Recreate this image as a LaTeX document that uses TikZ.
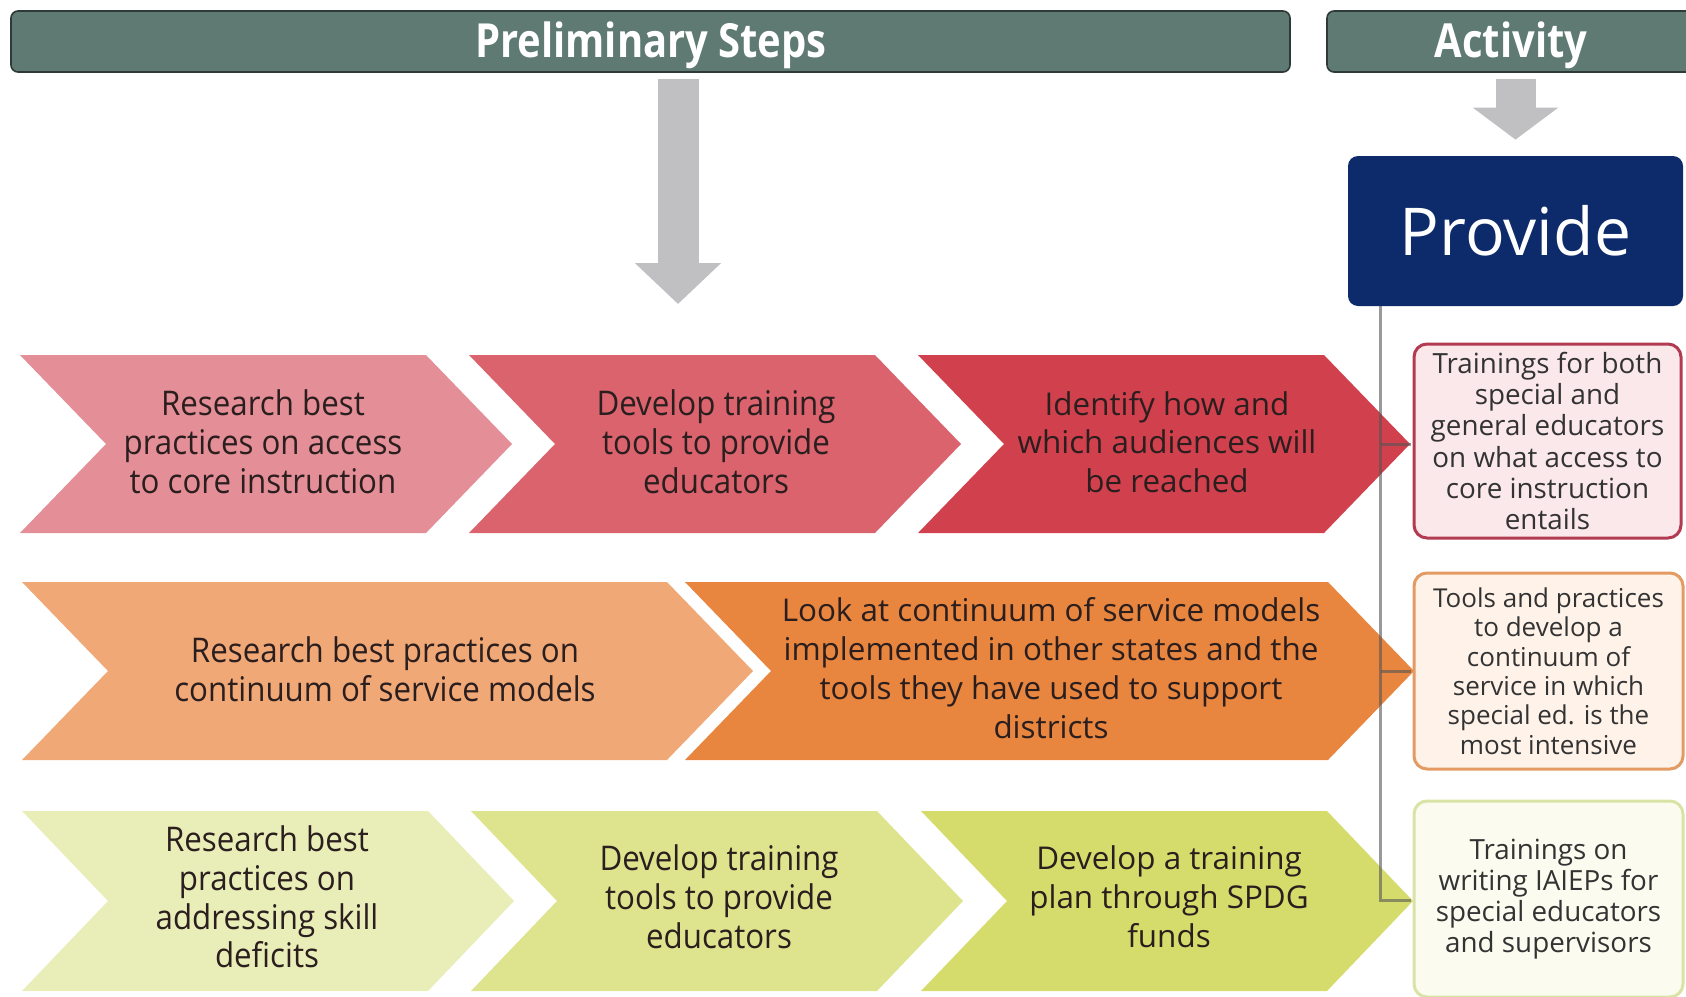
\documentclass[tikz,border=0pt]{standalone}
\usepackage{fontspec}
\setmainfont{Open Sans}
\newfontfamily\condf{Open Sans}[FakeStretch=0.85]
\newfontfamily\semicondf{Open Sans}[FakeStretch=0.92]
\usetikzlibrary{arrows.meta}
\definecolor{hdrfill}{HTML}{5F7A73}
\definecolor{hdrline}{HTML}{2E3A37}
\definecolor{arrowgray}{HTML}{C0C0C2}
\definecolor{navy}{HTML}{0D2B6B}
\definecolor{ra}{HTML}{E48E97}
\definecolor{rb}{HTML}{DA636E}
\definecolor{rc}{HTML}{D1404D}
\definecolor{oa}{HTML}{F0A877}
\definecolor{ob}{HTML}{E8853F}
\definecolor{ga}{HTML}{E9EDB8}
\definecolor{gb}{HTML}{DEE48E}
\definecolor{gc}{HTML}{D5DC6C}
\definecolor{bxonel}{HTML}{B23B52}
\definecolor{bxonef}{HTML}{FBE8EB}
\definecolor{bxtwol}{HTML}{E39B63}
\definecolor{bxtwof}{HTML}{FEF2E9}
\definecolor{bxthrl}{HTML}{D9E3A6}
\definecolor{bxthrf}{HTML}{FBFCEF}
\definecolor{chtext}{HTML}{2A1E1E}
\definecolor{bxtext}{HTML}{333333}
\definecolor{linegray}{HTML}{555555}
\newcommand\mychev[6]{%
  \fill[#6] (#1,#2) -- ({#1+#4-#5},#2) -- ({#1+#4},{(#2+#3)/2}) -- ({#1+#4-#5},#3) -- (#1,#3) -- ({#1+#5},{(#2+#3)/2}) -- cycle;}
\tikzset{
  hdr/.style={draw=hdrline, fill=hdrfill, line width=0.8pt, rounded corners=3.5pt,
    text=white, font=\condf\bfseries\fontsize{23.5}{27}\selectfont, inner sep=0pt},
  hdrtxt/.style={text=white, font=\condf\bfseries\fontsize{23.5}{27}\selectfont, inner sep=0pt},
  bigarrow/.style={draw=arrowgray, line width=20.5pt, -{Triangle[width=42pt,length=20.5pt]}},
  smallarrow/.style={draw=arrowgray, line width=20pt, -{Triangle[width=42pt,length=16pt]}},
  provbox/.style={fill=navy, rounded corners=5pt, text=white,
    font=\fontsize{33}{38}\selectfont, inner sep=0pt},
  ctxtc/.style={align=center, text=chtext, font=\semicondf\fontsize{17}{19.4}\selectfont, inner sep=0pt},
  ctxtn/.style={align=center, text=chtext, font=\fontsize{15.7}{19.4}\selectfont, inner sep=0pt},
  outbox/.style={rounded corners=6.5pt, line width=1.5pt, align=center, text=bxtext,
    font=\fontsize{13.9}{15.6}\selectfont, inner sep=0pt},
  conn/.style={draw=linegray, line width=1.5pt, opacity=0.6}
}
\begin{document}
\begin{tikzpicture}[x=0.5pt,y=-0.5pt]
\useasboundingbox (0,0) rectangle (1686,996);
\clip (0,0) rectangle (1686,996);
% headers
\node[hdr, minimum width=639.5pt, minimum height=30.5pt] (hdr1) at (650.5,41.5) {};
\node[hdr, minimum width=184pt, minimum height=30.5pt] (hdr2) at (1511,41.5) {};
\node[hdrtxt] (hdr1t) at (651,45) {Preliminary Steps};
\node[hdrtxt] (hdr2t) at (1511,45) {Activity};
% provide box
\node[provbox, minimum width=167.5pt, minimum height=75pt] (provide) at (1515.5,231) {Provide};
% big arrows
\coordinate (a1e) at (678,304);
\draw[bigarrow, shorten <=3pt] (hdr1.south -| a1e) -- (a1e);
\draw[smallarrow, shorten <=3pt, shorten >=8pt] (hdr2.south -| provide.north) -- (provide.north);
% row 1 chevrons
\mychev{20}{355}{533}{492}{86}{ra}
\mychev{469}{355}{533}{492}{86}{rb}
\mychev{918}{355}{533}{492}{86}{rc}
% row 2 chevrons
\mychev{22}{582}{760}{731}{86}{oa}
\mychev{685}{582}{760}{729}{86}{ob}
% row 3 chevrons
\mychev{22}{811}{991}{492}{86}{ga}
\mychev{471}{811}{991}{492}{86}{gb}
\mychev{921}{811}{991}{492}{86}{gc}
% chevron texts
\node[ctxtc] (c11) at (263,442) {Research best\\practices on access\\to core instruction};
\node[ctxtc] (c12) at (716,442) {Develop training\\tools to provide\\educators};
\node[ctxtn] (c13) at (1167,442) {Identify how and\\which audiences will\\be reached};
\node[ctxtc] (c21) at (385,669) {Research best practices on\\continuum of service models};
\node[ctxtn] (c22) at (1051,668) {Look at continuum of service models\\implemented in other states and the\\tools they have used to support\\districts};
\node[ctxtc] (c31) at (267,897) {Research best\\practices on\\addressing skill\\deficits};
\node[ctxtc] (c32) at (719,897) {Develop training\\tools to provide\\educators};
\node[ctxtn] (c33) at (1169,897) {Develop a training\\plan through SPDG\\funds};
% output boxes
\node[outbox, draw=bxonel, fill=bxonef, minimum width=133.5pt, minimum height=97pt] (o1) at (1547.5,441)
  {Trainings for both\\special and\\general educators\\on what access to\\core instruction\\entails};
\node[outbox, draw=bxtwol, fill=bxtwof, minimum width=134.5pt, minimum height=98pt,
  font=\fontsize{13}{14.7}\selectfont] (o2) at (1548.5,671)
  {Tools and practices\\to develop a\\continuum of\\service in which\\special ed. is the\\most intensive};
\node[outbox, draw=bxthrl, fill=bxthrf, minimum width=134.5pt, minimum height=98pt] (o3) at (1548.5,899)
  {Trainings on\\writing IAIEPs for\\special educators\\and supervisors};
% connector lines
\coordinate (vtop) at ([xshift=16.5pt]provide.south west);
\coordinate (t1) at (1411,444);
\coordinate (t2) at (1411,671);
\coordinate (t3) at (1411,900);
\draw[conn] (vtop) |- (t3);
\draw[conn] (vtop |- t1) -- (t1);
\draw[conn] (vtop |- t2) -- (t2);
\end{tikzpicture}
\end{document}
